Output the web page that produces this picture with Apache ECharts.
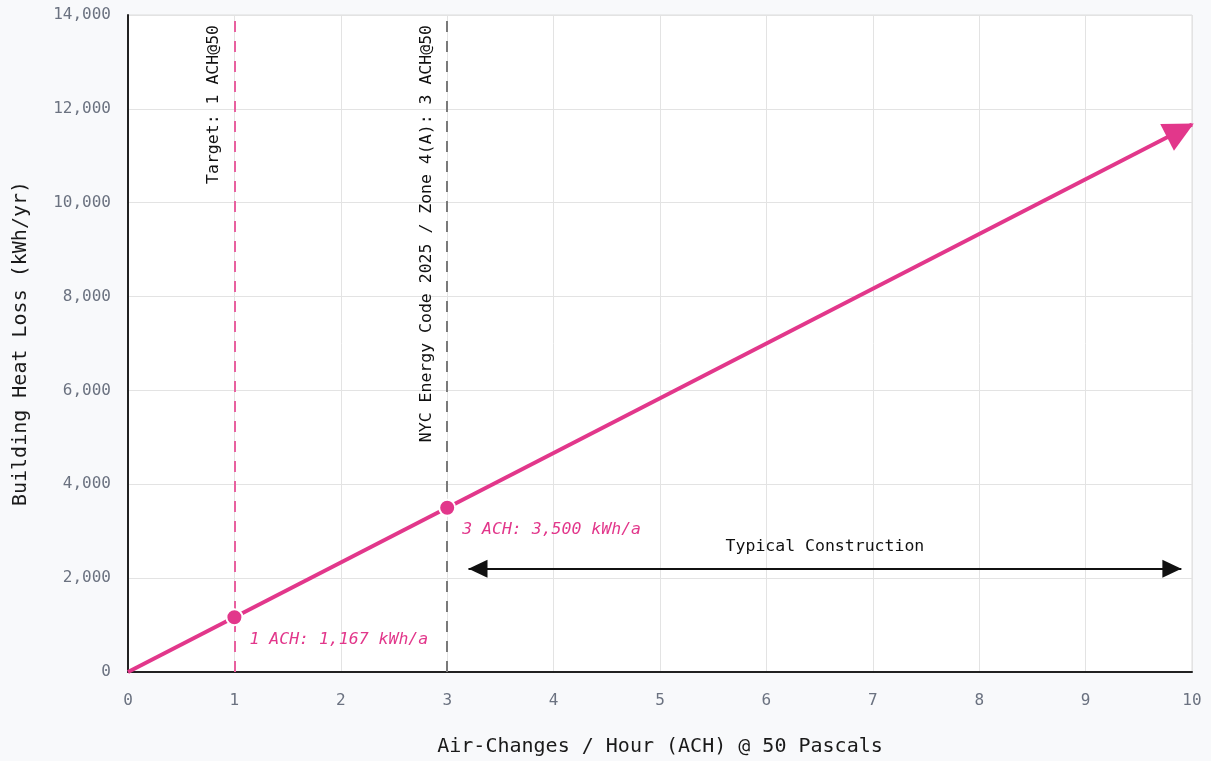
<!DOCTYPE html>
<html>
<head>
<meta charset="utf-8">
<script src="https://cdn.jsdelivr.net/npm/echarts@6/dist/echarts.min.js"></script>
<style>
html,body{margin:0;padding:0;background:#f8f9fb;}
#c{width:1211px;height:761px;}
</style>
</head>
<body>
<div id="c"></div>
<script>
const xTicks = [0,1,2,3,4,5,6,7,8,9,10];
const lineX = [0, 10];
const lineY = [0, 11667];
const pointX = [1, 3];
const pointY = [1167, 3500];
const pointLabels = ['1 ACH: 1,167 kWh/a', '3 ACH: 3,500 kWh/a'];
const refX = [1, 3];
const refLabels = ['Target: 1 ACH@50', 'NYC Energy Code 2025 / Zone 4(A): 3 ACH@50'];
const spanX = [3.2, 9.9];
const spanY = 2200;
const spanLabel = 'Typical Construction';

const PINK = '#e2378b';
const FONT = '"DejaVu Sans Mono", "Liberation Mono", monospace';

const chart = echarts.init(document.getElementById('c'));
chart.setOption({
  backgroundColor: '#f8f9fb',
  animation: false,
  textStyle: {fontFamily: FONT},
  grid: {left: 128, right: 19, top: 15, bottom: 89, containLabel: false, outerBoundsMode: 'none',
    show: true, backgroundColor: '#ffffff', borderColor: '#dddddd', borderWidth: 1},
  xAxis: {
    type: 'value', min: 0, max: 10, interval: 1,
    name: 'Air-Changes / Hour (ACH) @ 50 Pascals', nameLocation: 'middle', nameGap: 65,
    nameTextStyle: {color: '#1a1a1a', fontSize: 20, fontFamily: FONT},
    axisLine: {lineStyle: {color: '#222', width: 2}},
    axisTick: {show: false},
    axisLabel: {color: '#6b7280', fontSize: 16, margin: 21, fontFamily: FONT},
    splitLine: {lineStyle: {color: '#e3e3e3', width: 1}}
  },
  yAxis: {
    type: 'value', min: 0, max: 14000, interval: 2000,
    name: 'Building Heat Loss (kWh/yr)', nameLocation: 'middle', nameGap: 97,
    nameTextStyle: {color: '#1a1a1a', fontSize: 20, fontFamily: FONT},
    axisLine: {show: true, lineStyle: {color: '#222', width: 2}},
    axisTick: {show: false},
    axisLabel: {color: '#6b7280', fontSize: 16, margin: 17, fontFamily: FONT,
      formatter: v => v.toLocaleString('en-US')},
    splitLine: {lineStyle: {color: '#e3e3e3', width: 1}}
  },
  series: [
    {
      type: 'line',
      data: [],
      markLine: {
        silent: true,
        animation: false,
        symbol: ['none', 'none'],
        data: [
          {xAxis: refX[0], lineStyle: {color: '#e8609f', type: [11, 9], width: 2},
           label: {show: true, formatter: refLabels[0], position: 'insideEndTop', color: '#111', fontSize: 16.5, fontFamily: FONT, distance: [10, 12]}},
          {xAxis: refX[1], lineStyle: {color: '#7a7a7a', type: [11, 9], width: 2},
           label: {show: true, formatter: refLabels[1], position: 'insideEndTop', color: '#111', fontSize: 16.5, fontFamily: FONT, distance: [10, 12]}}
        ]
      }
    },
    {
      type: 'line',
      data: [],
      markLine: {
        silent: true,
        animation: false,
        symbol: ['triangle', 'triangle'],
        symbolSize: [18, 19],
        symbolOffset: [[0, 9.5], [0, 9.5]],
        lineStyle: {color: '#111', type: 'solid', width: 2},
        label: {show: true, formatter: spanLabel, position: 'middle', color: '#111', fontSize: 16.5, fontFamily: FONT, distance: 14},
        data: [[{coord: [spanX[0], spanY]}, {coord: [spanX[1], spanY]}]]
      }
    },
    {
      type: 'line',
      data: [],
      markLine: {
        silent: true,
        animation: false,
        symbol: ['none', 'triangle'],
        symbolSize: [30, 30],
        symbolOffset: [[0, 0], [0, 13]],
        lineStyle: {color: PINK, type: 'solid', width: 4},
        label: {show: false},
        data: [[{coord: [lineX[0], lineY[0]]}, {coord: [lineX[1], lineY[1]]}]]
      }
    },
    {
      type: 'scatter',
      data: pointX.map((x, i) => [x, pointY[i]]),
      symbolSize: 16,
      z: 5,
      itemStyle: {color: PINK, borderColor: '#fff', borderWidth: 2, opacity: 1},
      label: {
        show: true, position: 'right', offset: [1, 22],
        formatter: p => pointLabels[p.dataIndex],
        color: PINK, fontSize: 16.5, fontStyle: 'italic', fontFamily: FONT
      }
    }
  ]
});
</script>
</body>
</html>
